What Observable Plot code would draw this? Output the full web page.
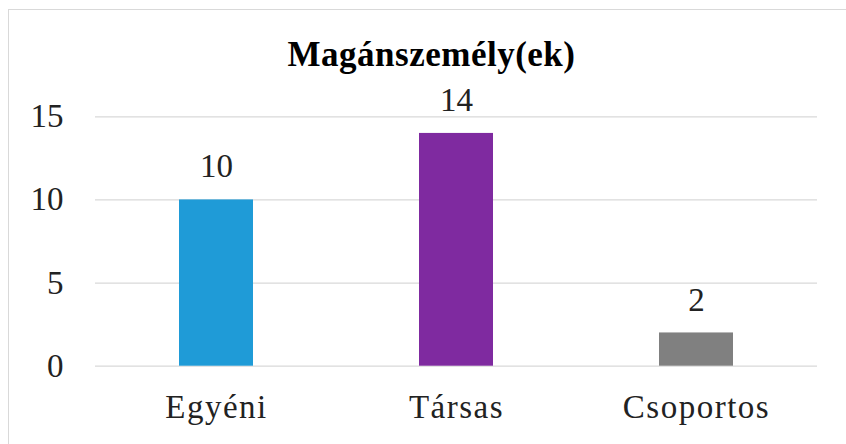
<!DOCTYPE html>
<html>
<head>
<meta charset="utf-8">
<script src="https://cdn.jsdelivr.net/npm/d3@7"></script>
<script src="https://cdn.jsdelivr.net/npm/@observablehq/plot@0.6"></script>
<style>
  html, body { margin: 0; padding: 0; background: #fff; overflow: hidden; }
  #wrap { position: relative; width: 846px; height: 444px; overflow: hidden; }
  #frame { position: absolute; left: 8px; top: 9px; width: 900px; height: 500px;
           border-top: 1px solid #d9d9d9; border-left: 1px solid #d9d9d9; box-sizing: border-box; }
  #title { position: relative; height: 80px; box-sizing: border-box; padding-top: 37px; padding-left: 17px;
           text-align: center; font-family: "Liberation Serif", "Times New Roman", serif;
           font-weight: bold; font-size: 35px; line-height: 35px; letter-spacing: 0.5px; color: #000; white-space: nowrap; }
  #chart { position: relative; }
  #chart svg { display: block; }
</style>
</head>
<body>
<div id="wrap">
  <div id="frame"></div>
  <div id="title">Magánszemély(ek)</div>
  <div id="chart"></div>
</div>
<script>
const categories = ["Egyéni", "Társas", "Csoportos"];
const values = [10, 14, 2];
const colors = ["#1f9bd7", "#7f2aa0", "#808080"];
const yTicks = [0, 5, 10, 15];

const data = categories.map((c, i) => ({category: c, value: values[i], color: colors[i]}));

const font = "'Liberation Serif', 'Times New Roman', serif";

const chart = Plot.plot({
  width: 846,
  height: 364,
  marginLeft: 95,
  marginRight: 29,
  marginTop: 36.3,
  marginBottom: 78.3,
  style: { fontFamily: font, fontSize: "33px", color: "#222", background: "transparent", overflow: "visible" },
  x: { domain: categories, paddingInner: 0.69, paddingOuter: 0.345, label: null },
  y: { domain: [0, 15], label: null },
  marks: [
    Plot.gridY(yTicks, { stroke: "#d9d9d9", strokeOpacity: 1, strokeWidth: 1.2 }),
    Plot.barY(data, { x: "category", y: "value", fill: "color" }),
    Plot.text(data, { x: "category", y: "value", text: d => String(d.value), dy: -33, fill: "#222", fontSize: 33, fontFamily: font }),
    Plot.axisY(yTicks, { tickSize: 0, tickPadding: 32, label: null, fontSize: 33, fill: "#222", fontFamily: font }),
    Plot.axisX({ tickSize: 0, tickPadding: 28, label: null, fontSize: 33, fill: "#222", fontFamily: font })
  ]
});
d3.select(chart).selectAll('g[aria-label="x-axis tick label"] text')
  .style("letter-spacing", "1.5px");
document.getElementById("chart").appendChild(chart);
</script>
</body>
</html>
